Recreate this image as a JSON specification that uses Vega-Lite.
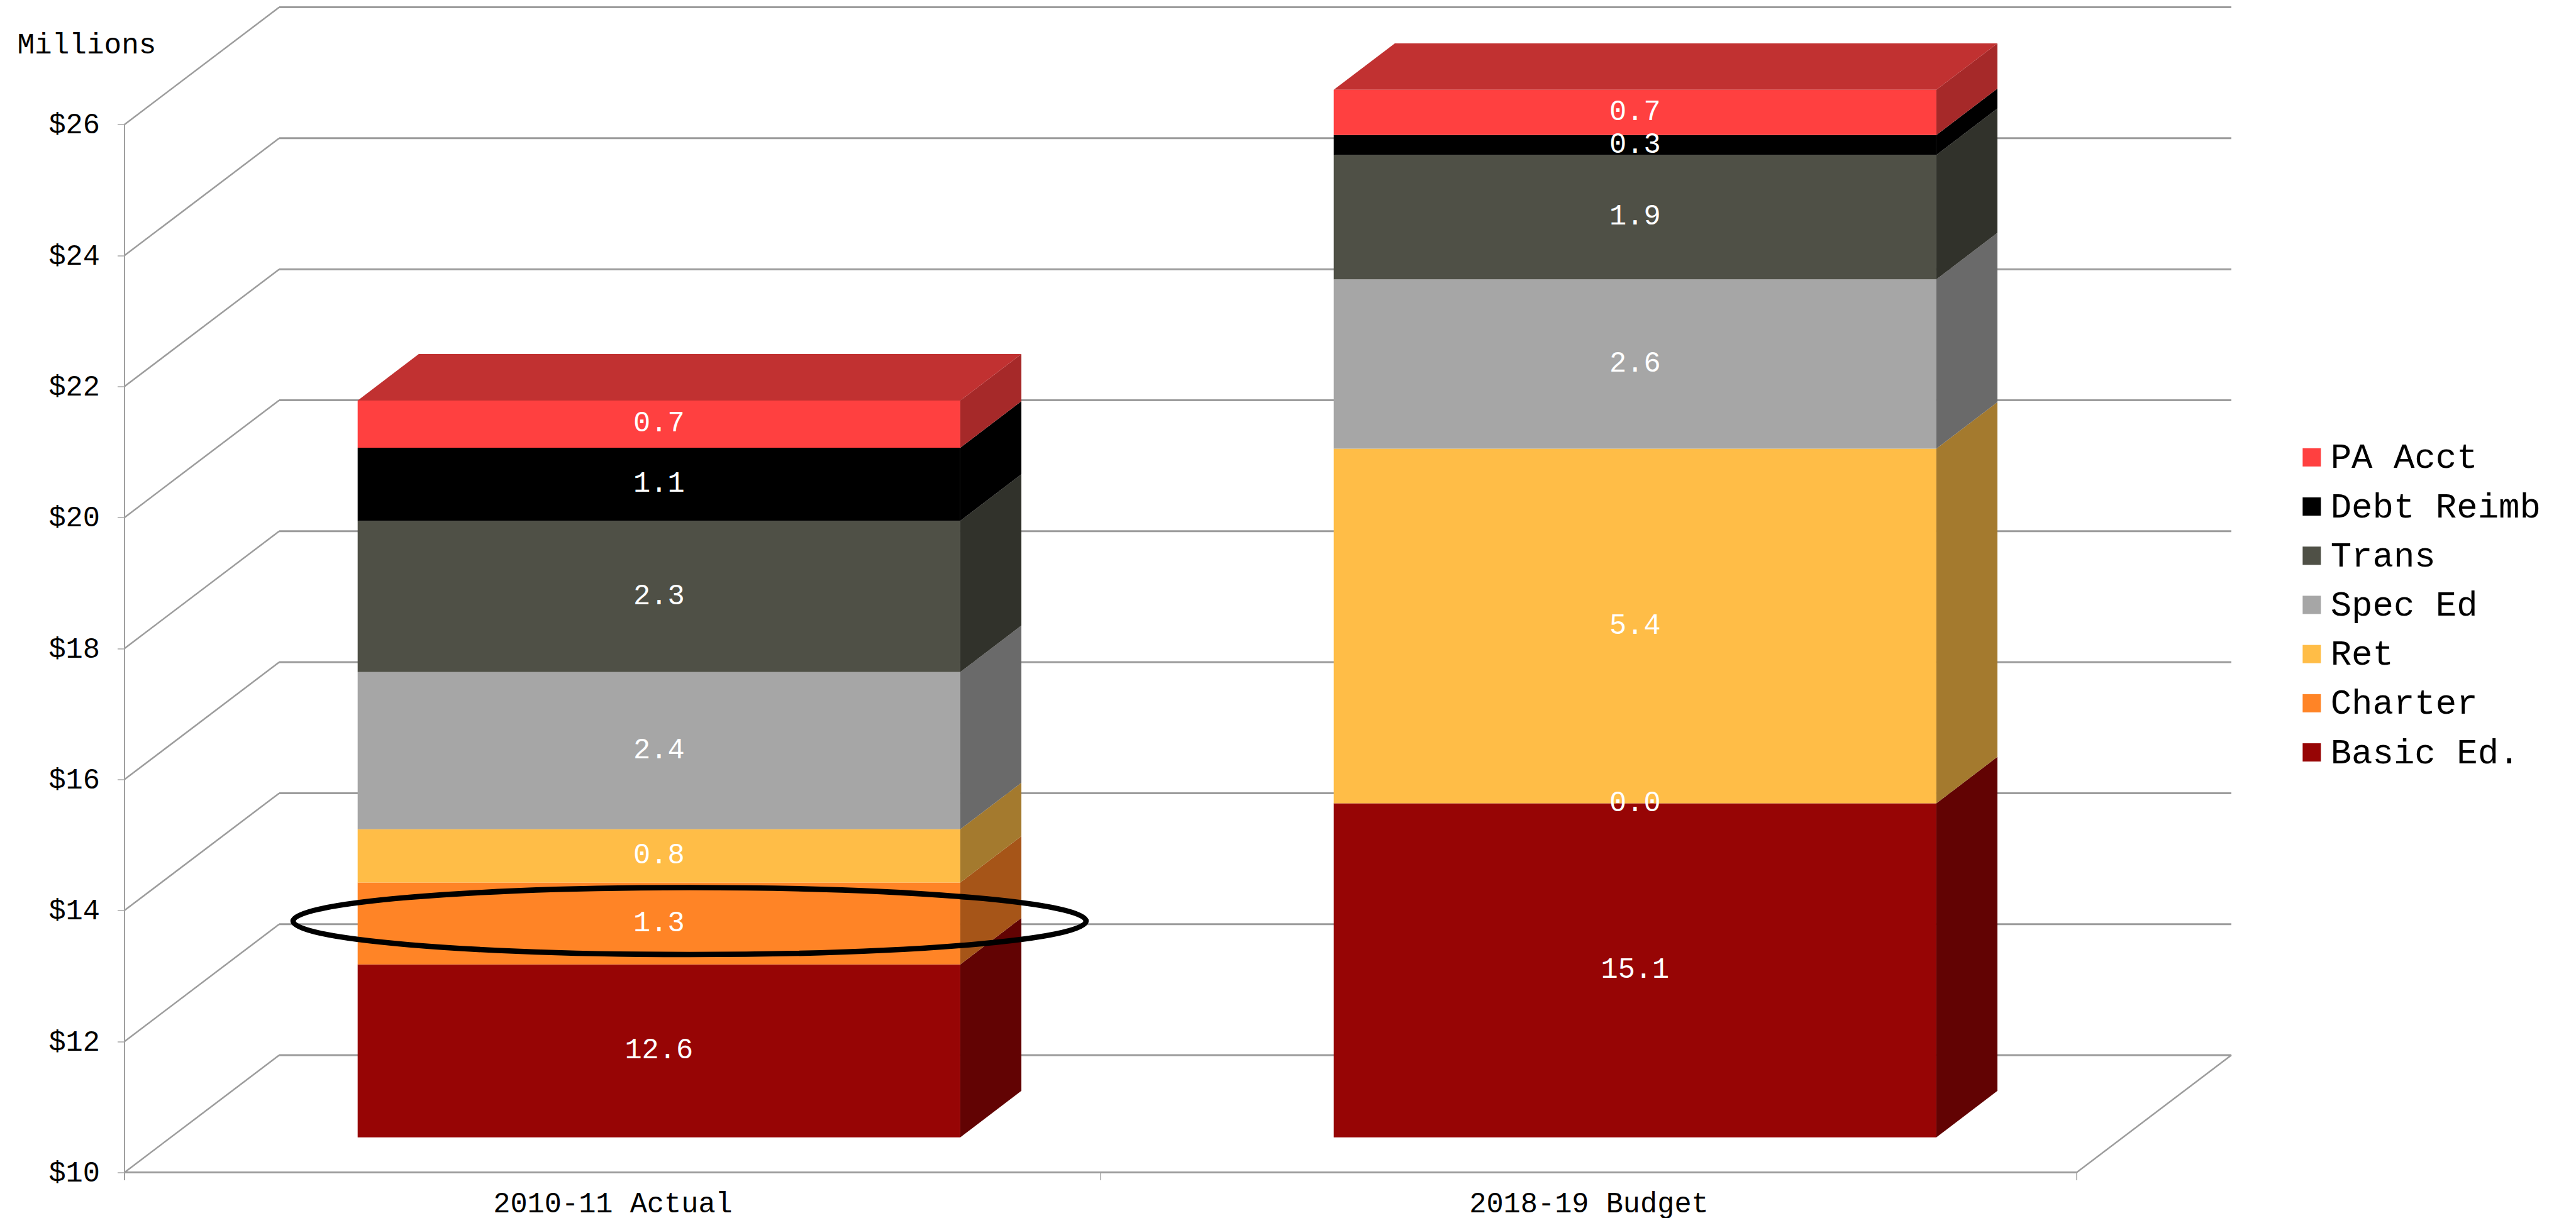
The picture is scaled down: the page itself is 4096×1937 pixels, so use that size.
{
  "$schema": "https://vega.github.io/schema/vega-lite/v6.json",
  "width": 3350,
  "height": 1853,
  "autosize": {"type": "none"},
  "padding": {"left": 198, "top": 11.5, "right": 548, "bottom": 72.5},
  "background": "white",
  "config": {
    "view": {"stroke": null},
    "font": "Liberation Mono",
    "text": {"font": "Liberation Mono"}
  },
  "datasets": {
    "levels": [
      {"level": 10}, {"level": 12}, {"level": 14}, {"level": 16}, {"level": 18},
      {"level": 20}, {"level": 22}, {"level": 24}, {"level": 26}
    ],
    "corners": [{"slot": 0}, {"slot": 1}, {"slot": 2}],
    "budget": [
      {"period": "2010-11 Actual", "series": "Basic Ed.", "value": 12.64},
      {"period": "2010-11 Actual", "series": "Charter", "value": 1.25},
      {"period": "2010-11 Actual", "series": "Ret", "value": 0.814},
      {"period": "2010-11 Actual", "series": "Spec Ed", "value": 2.4},
      {"period": "2010-11 Actual", "series": "Trans", "value": 2.31},
      {"period": "2010-11 Actual", "series": "Debt Reimb", "value": 1.116},
      {"period": "2010-11 Actual", "series": "PA Acct", "value": 0.72},
      {"period": "2018-19 Budget", "series": "Basic Ed.", "value": 15.1},
      {"period": "2018-19 Budget", "series": "Charter", "value": 0},
      {"period": "2018-19 Budget", "series": "Ret", "value": 5.415},
      {"period": "2018-19 Budget", "series": "Spec Ed", "value": 2.585},
      {"period": "2018-19 Budget", "series": "Trans", "value": 1.9},
      {"period": "2018-19 Budget", "series": "Debt Reimb", "value": 0.304},
      {"period": "2018-19 Budget", "series": "PA Acct", "value": 0.69}
    ]
  },
  "layer": [
    {
      "data": {"name": "corners"},
      "mark": {"type": "rule", "color": "#a6a6a6", "strokeWidth": 1.5},
      "encoding": {
        "x": {
          "field": "slot",
          "type": "quantitative",
          "scale": {"domain": [0, 2.1585]},
          "axis": {
            "values": [0.5, 1.5],
            "labelExpr": "datum.value < 1 ? '2010-11 Actual' : '2018-19 Budget'",
            "title": null,
            "grid": false,
            "domain": false,
            "ticks": false,
            "labelFont": "Liberation Mono",
            "labelFontSize": 45.3,
            "labelColor": "#000000",
            "labelPadding": 27,
            "labelLimit": 800,
            "labelAngle": 0
          }
        },
        "y": {
          "datum": 9.88,
          "type": "quantitative",
          "scale": {"domain": [10, 27.79]},
          "axis": {
            "values": [10, 12, 14, 16, 18, 20, 22, 24, 26],
            "format": "$.0f",
            "title": "Millions",
            "titleAngle": 0,
            "titleFont": "Liberation Mono",
            "titleFontSize": 46,
            "titleFontWeight": "normal",
            "titleColor": "#000000",
            "titleAlign": "left",
            "titleBaseline": "alphabetic",
            "titleX": -171,
            "titleY": 73,
            "grid": false,
            "domain": false,
            "ticks": true,
            "tickColor": "#a6a6a6",
            "tickWidth": 1.5,
            "tickSize": 11.5,
            "labelFont": "Liberation Mono",
            "labelFontSize": 45.3,
            "labelColor": "#000000",
            "labelPadding": 28
          }
        },
        "y2": {"datum": 10}
      }
    },
    {
      "data": {"name": "levels"},
      "transform": [{"calculate": "datum.level + 1.79", "as": "back"}],
      "layer": [
        {
          "mark": {"type": "rule", "color": "#9c9c9c", "strokeWidth": 2.5},
          "encoding": {
            "x": {"datum": 0, "type": "quantitative", "scale": {"domain": [0, 2.1585]}},
            "x2": {"datum": 0.1585},
            "y": {"field": "level", "type": "quantitative", "scale": {"domain": [10, 27.79]}},
            "y2": {"field": "back"}
          }
        },
        {
          "mark": {"type": "rule", "color": "#9c9c9c", "strokeWidth": 3},
          "encoding": {
            "x": {"datum": 0.1585, "type": "quantitative", "scale": {"domain": [0, 2.1585]}},
            "x2": {"datum": 2.1585},
            "y": {"field": "back", "type": "quantitative", "scale": {"domain": [10, 27.79]}}
          }
        },
        {
          "transform": [{"filter": "datum.level === 10"}],
          "layer": [
            {
              "mark": {"type": "rule", "color": "#9c9c9c", "strokeWidth": 3},
              "encoding": {
                "x": {"datum": 0, "type": "quantitative", "scale": {"domain": [0, 2.1585]}},
                "x2": {"datum": 2},
                "y": {"field": "level", "type": "quantitative", "scale": {"domain": [10, 27.79]}}
              }
            },
            {
              "mark": {"type": "rule", "color": "#9c9c9c", "strokeWidth": 2.5},
              "encoding": {
                "x": {"datum": 2, "type": "quantitative", "scale": {"domain": [0, 2.1585]}},
                "x2": {"datum": 2.1585},
                "y": {"field": "level", "type": "quantitative", "scale": {"domain": [10, 27.79]}},
                "y2": {"field": "back"}
              }
            },
            {
              "mark": {"type": "rule", "color": "#a0a0a0", "strokeWidth": 2},
              "encoding": {
                "x": {"datum": 0, "type": "quantitative", "scale": {"domain": [0, 2.1585]}},
                "y": {"datum": 9.88, "type": "quantitative", "scale": {"domain": [10, 27.79]}},
                "y2": {"datum": 26}
              }
            }
          ]
        }
      ]
    },
    {
      "data": {"name": "budget"},
      "transform": [
        {"calculate": "indexof(['Basic Ed.','Charter','Ret','Spec Ed','Trans','Debt Reimb','PA Acct'], datum.series)", "as": "order"},
        {"stack": "value", "groupby": ["period"], "sort": [{"field": "order", "order": "ascending"}], "as": ["s0", "s1"]},
        {"calculate": "indexof(['2010-11 Actual','2018-19 Budget'], datum.period) + 0.5", "as": "slot"},
        {"calculate": "datum.slot + 0.04755 - 0.3087", "as": "left"},
        {"calculate": "datum.slot + 0.04755 + 0.3087", "as": "right"},
        {"calculate": "max(datum.s0, 10) + 0.535", "as": "low"},
        {"calculate": "datum.s1 + 0.535", "as": "high"},
        {"calculate": "(datum.low + datum.high) / 2", "as": "mid"},
        {"calculate": "datum.slot + 0.04755", "as": "centre"}
      ],
      "resolve": {"scale": {"color": "independent"}},
      "layer": [
        {
          "transform": [
            {"calculate": "[0, 1]", "as": "step"},
            {"flatten": ["step"]},
            {"calculate": "datum.right + datum.step * 0.0626", "as": "sideX"},
            {"calculate": "datum.low + datum.step * 0.71", "as": "sideLow"},
            {"calculate": "datum.high + datum.step * 0.71", "as": "sideHigh"}
          ],
          "mark": {"type": "area", "orient": "vertical"},
          "encoding": {
            "x": {"field": "sideX", "type": "quantitative", "scale": {"domain": [0, 2.1585]}},
            "y": {"field": "sideLow", "type": "quantitative", "stack": null, "scale": {"domain": [10, 27.79]}},
            "y2": {"field": "sideHigh"},
            "detail": {"field": "period"},
            "color": {
              "field": "series",
              "type": "nominal",
              "legend": null,
              "scale": {
                "domain": ["PA Acct", "Debt Reimb", "Trans", "Spec Ed", "Ret", "Charter", "Basic Ed."],
                "range": ["#a62929", "#000000", "#31322b", "#6a6a6a", "#a47a2e", "#a65518", "#620303"]
              }
            }
          }
        },
        {
          "transform": [
            {"filter": "datum.series === 'PA Acct'"},
            {"calculate": "[0, 1]", "as": "step"},
            {"flatten": ["step"]},
            {"calculate": "datum.left + datum.step * 0.0626", "as": "topLeft"},
            {"calculate": "datum.right + datum.step * 0.0626", "as": "topRight"},
            {"calculate": "datum.high + datum.step * 0.71", "as": "topY"}
          ],
          "mark": {"type": "area", "orient": "horizontal", "color": "#c13131"},
          "encoding": {
            "y": {"field": "topY", "type": "quantitative", "scale": {"domain": [10, 27.79]}},
            "x": {"field": "topLeft", "type": "quantitative", "stack": null, "scale": {"domain": [0, 2.1585]}},
            "x2": {"field": "topRight"},
            "detail": {"field": "period"}
          }
        },
        {
          "mark": {"type": "rect"},
          "encoding": {
            "x": {"field": "left", "type": "quantitative", "scale": {"domain": [0, 2.1585]}},
            "x2": {"field": "right"},
            "y": {"field": "low", "type": "quantitative", "scale": {"domain": [10, 27.79]}},
            "y2": {"field": "high"},
            "color": {
              "field": "series",
              "type": "nominal",
              "scale": {
                "domain": ["PA Acct", "Debt Reimb", "Trans", "Spec Ed", "Ret", "Charter", "Basic Ed."],
                "range": ["#ff4040", "#000000", "#4f5046", "#a6a6a6", "#ffbd47", "#ff8426", "#970505"]
              },
              "legend": {
                "orient": "none",
                "legendX": 3450,
                "legendY": 688,
                "title": null,
                "padding": 0,
                "symbolType": "square",
                "symbolSize": 841,
                "symbolStrokeWidth": 0,
                "labelFont": "Liberation Mono",
                "labelFontSize": 55.7,
                "labelColor": "#000000",
                "labelOffset": 2,
                "rowPadding": 21.2,
                "labelLimit": 600
              }
            }
          }
        },
        {
          "mark": {"type": "text", "color": "#ffffff", "fontSize": 45.3, "font": "Liberation Mono", "baseline": "middle", "align": "center", "dy": -2},
          "encoding": {
            "x": {"field": "centre", "type": "quantitative", "scale": {"domain": [0, 2.1585]}},
            "y": {"field": "mid", "type": "quantitative", "scale": {"domain": [10, 27.79]}},
            "text": {"field": "value", "type": "quantitative", "format": ".1f"}
          }
        }
      ]
    },
    {
      "data": {"values": [{"note": "Charter 2010-11"}]},
      "mark": {
        "type": "point",
        "filled": false,
        "stroke": "#000000",
        "strokeWidth": 8.6,
        "opacity": 1,
        "size": 1590000,
        "shape": "M-1,0C-1,-0.0467,-0.5523,-0.0845,0,-0.0845C0.5523,-0.0845,1,-0.0467,1,0C1,0.0467,0.5523,0.0845,0,0.0845C-0.5523,0.0845,-1,0.0467,-1,0Z"
      },
      "encoding": {
        "x": {"datum": 0.5789, "type": "quantitative", "scale": {"domain": [0, 2.1585]}},
        "y": {"datum": 13.838, "type": "quantitative", "scale": {"domain": [10, 27.79]}}
      }
    }
  ]
}
